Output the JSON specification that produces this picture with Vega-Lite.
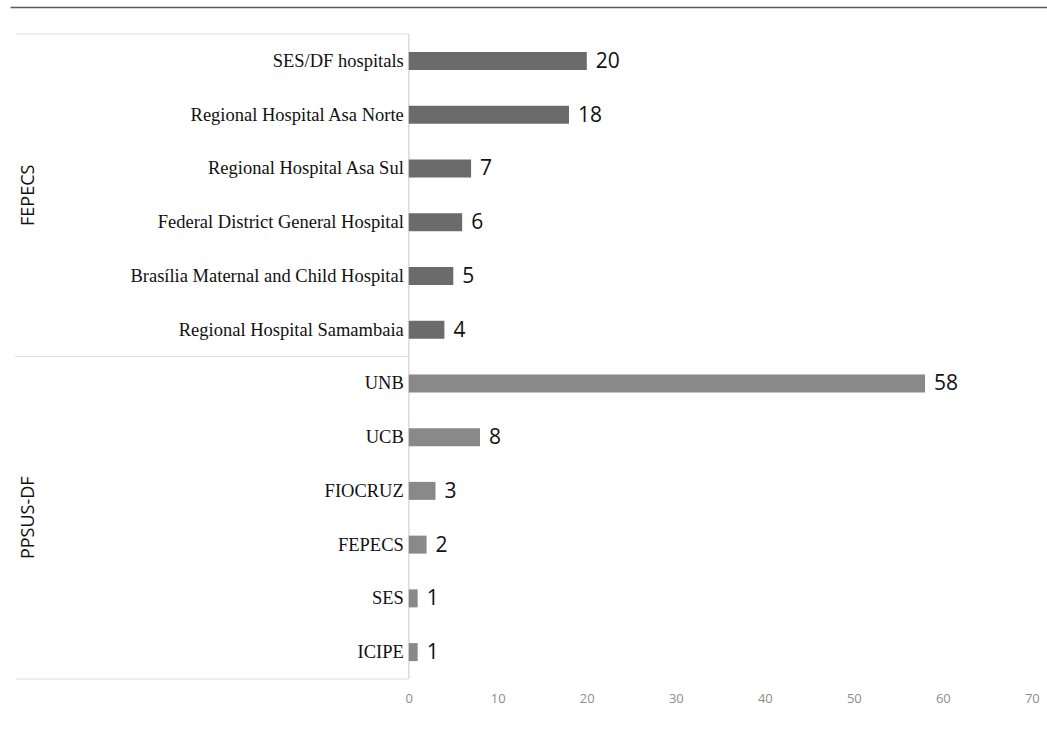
{
  "$schema": "https://vega.github.io/schema/vega-lite/v6.json",
  "autosize": {"type": "none"},
  "padding": {"left": 10, "top": 34, "right": 0, "bottom": 63},
  "width": 1037,
  "height": 645,
  "config": {"view": {"stroke": null}},
  "datasets": {
    "bars": [
      {"group": "FEPECS", "label": "SES/DF hospitals", "value": 20},
      {"group": "FEPECS", "label": "Regional Hospital Asa Norte", "value": 18},
      {"group": "FEPECS", "label": "Regional Hospital Asa Sul", "value": 7},
      {"group": "FEPECS", "label": "Federal District General Hospital", "value": 6},
      {"group": "FEPECS", "label": "Brasília Maternal and Child Hospital", "value": 5},
      {"group": "FEPECS", "label": "Regional Hospital Samambaia", "value": 4},
      {"group": "PPSUS-DF", "label": "UNB", "value": 58},
      {"group": "PPSUS-DF", "label": "UCB", "value": 8},
      {"group": "PPSUS-DF", "label": "FIOCRUZ", "value": 3},
      {"group": "PPSUS-DF", "label": "FEPECS", "value": 2},
      {"group": "PPSUS-DF", "label": "SES", "value": 1},
      {"group": "PPSUS-DF", "label": "ICIPE", "value": 1}
    ],
    "groups": [{"group": "FEPECS"}, {"group": "PPSUS-DF"}]
  },
  "layer": [
    {
      "data": {"name": "groups"},
      "mark": {"type": "rule", "color": "#dedede", "strokeWidth": 1.2},
      "encoding": {
        "x": {"datum": -44.2, "type": "quantitative", "scale": {"domain": [-44.8, 71.7], "nice": false, "zero": false}, "axis": null},
        "x2": {"datum": 0},
        "y": {"field": "group", "type": "nominal", "sort": null, "bandPosition": 0, "scale": {"paddingInner": 0, "paddingOuter": 0}, "axis": null}
      }
    },
    {
      "data": {"name": "groups"},
      "mark": {"type": "rule", "color": "#dedede", "strokeWidth": 1.2},
      "encoding": {
        "x": {"datum": -44.2, "type": "quantitative", "scale": {"domain": [-44.8, 71.7], "nice": false, "zero": false}, "axis": null},
        "x2": {"datum": 0},
        "y": {"field": "group", "type": "nominal", "sort": null, "bandPosition": 1, "scale": {"paddingInner": 0, "paddingOuter": 0}, "axis": null}
      }
    },
    {
      "data": {"name": "groups"},
      "mark": {"type": "text", "angle": 270, "font": "Open Sans", "fontSize": 18, "color": "#111111", "align": "center", "baseline": "middle"},
      "encoding": {
        "x": {"datum": -42.7, "type": "quantitative", "scale": {"domain": [-44.8, 71.7], "nice": false, "zero": false}, "axis": null},
        "y": {"field": "group", "type": "nominal", "sort": null, "scale": {"paddingInner": 0, "paddingOuter": 0}, "axis": null},
        "text": {"field": "group"}
      }
    },
    {
      "data": {"name": "groups"},
      "mark": {"type": "rule", "color": "#dcdcdc", "strokeWidth": 1.2},
      "encoding": {
        "x": {"datum": 0, "type": "quantitative", "scale": {"domain": [-44.8, 71.7], "nice": false, "zero": false},
          "axis": {"orient": "top", "offset": 27, "labels": false, "ticks": false, "grid": false, "domain": true, "domainColor": "#5a5a5a", "domainWidth": 1.5, "title": null}}
      }
    },
    {
      "data": {"name": "bars"},
      "mark": {"type": "bar", "size": 18},
      "encoding": {
        "x": {"field": "value", "type": "quantitative", "scale": {"domain": [-44.8, 71.7], "nice": false, "zero": false},
          "axis": {"orient": "bottom", "values": [0, 10, 20, 30, 40, 50, 60, 70], "domain": false, "ticks": false, "grid": false, "labelColor": "#8c8c8c", "labelFont": "Open Sans", "labelFontSize": 13, "labelPadding": 13, "title": null}},
        "x2": {"datum": 0},
        "y": {"field": "label", "type": "nominal", "sort": null, "scale": {"paddingInner": 0, "paddingOuter": 0}, "axis": null},
        "color": {"field": "group", "type": "nominal", "scale": {"domain": ["FEPECS", "PPSUS-DF"], "range": ["#6b6b6b", "#898989"]}, "legend": null}
      }
    },
    {
      "data": {"name": "bars"},
      "mark": {"type": "text", "align": "left", "baseline": "middle", "dx": 9, "dy": 1, "font": "Open Sans", "fontSize": 21, "color": "#111111"},
      "encoding": {
        "x": {"field": "value", "type": "quantitative", "scale": {"domain": [-44.8, 71.7], "nice": false, "zero": false}, "axis": null},
        "y": {"field": "label", "type": "nominal", "sort": null, "scale": {"paddingInner": 0, "paddingOuter": 0}, "axis": null},
        "text": {"field": "value"}
      }
    },
    {
      "data": {"name": "bars"},
      "mark": {"type": "text", "align": "right", "baseline": "middle", "dx": -5, "font": "Liberation Serif", "fontSize": 18.5, "color": "#111111"},
      "encoding": {
        "x": {"datum": 0, "type": "quantitative", "scale": {"domain": [-44.8, 71.7], "nice": false, "zero": false}, "axis": null},
        "y": {"field": "label", "type": "nominal", "sort": null, "scale": {"paddingInner": 0, "paddingOuter": 0}, "axis": null},
        "text": {"field": "label"}
      }
    }
  ],
  "resolve": {"scale": {"y": "independent"}, "axis": {"x": "independent"}}
}
